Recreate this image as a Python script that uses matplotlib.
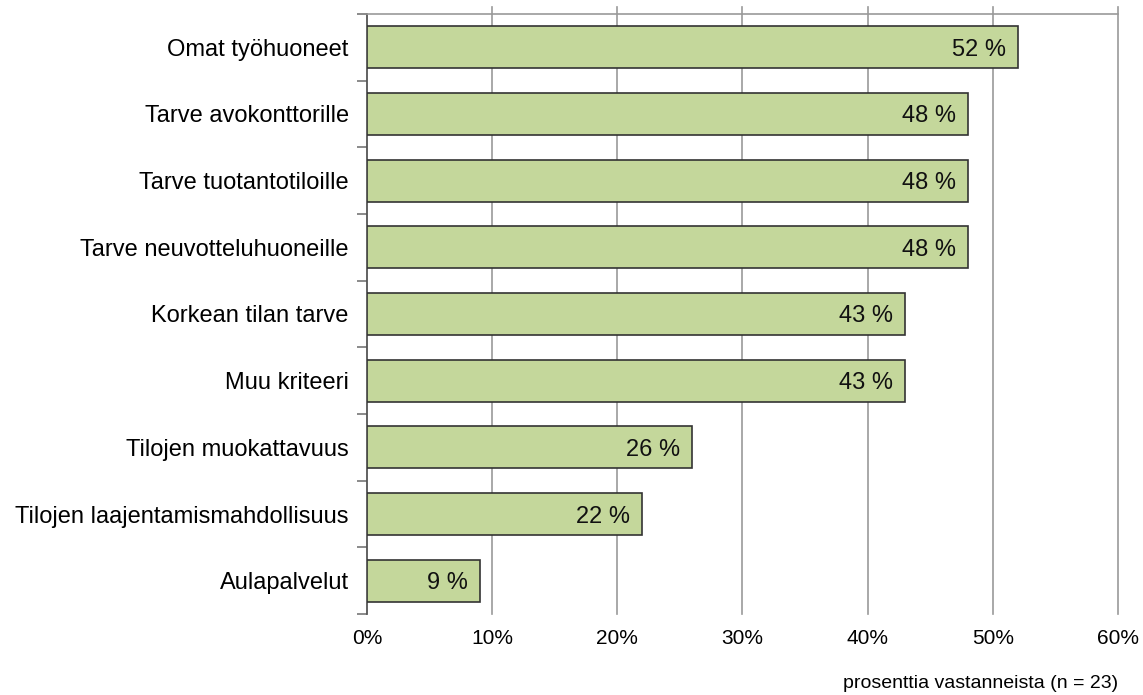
import matplotlib.pyplot as plt
from matplotlib.ticker import FuncFormatter

plt.rcParams['font.family'] = ['Liberation Sans', 'DejaVu Sans']

categories = [
    "Omat työhuoneet",
    "Tarve avokonttorille",
    "Tarve tuotantotiloille",
    "Tarve neuvotteluhuoneille",
    "Korkean tilan tarve",
    "Muu kriteeri",
    "Tilojen muokattavuus",
    "Tilojen laajentamismahdollisuus",
    "Aulapalvelut",
]
values = [52, 48, 48, 48, 43, 43, 26, 22, 9]
x_ticks = [0, 10, 20, 30, 40, 50, 60]
x_title = "prosenttia vastanneista (n = 23)"

fig = plt.figure(figsize=(11.43, 6.95), dpi=100)
ax = fig.add_axes([0.321, 0.1165, 0.657, 0.8635])

ypos = list(range(len(categories)))
ax.barh(ypos, values, height=0.63, color="#c4d79b", edgecolor="#333333",
        linewidth=1.2, zorder=3)

for y, v in zip(ypos, values):
    ax.text(v - 0.95, y, f"{v} %", ha="right", va="center_baseline",
            fontsize=17, color="#111111", zorder=4)

ax.set_xlim(0, 60)
ax.set_ylim(len(categories) - 0.5, -0.5)

# vertical gridlines poke a little above the top line
for xt in x_ticks[1:]:
    ax.plot([xt, xt], [len(categories) - 0.5, -0.6], color="#999999",
            linewidth=1.2, clip_on=False, zorder=1)

ax.set_xticks(x_ticks)
ax.xaxis.set_major_formatter(FuncFormatter(lambda v, p: f"{int(v)}%"))
ax.tick_params(axis="x", length=0, pad=11, labelsize=15)

ax.set_yticks(ypos)
ax.set_yticklabels(categories, fontsize=17)
ax.set_yticks([i - 0.5 for i in range(len(categories) + 1)], minor=True)
ax.tick_params(axis="y", which="major", length=0, pad=13)
ax.tick_params(axis="y", which="minor", length=7, width=1.2, color="#777777")

for side in ["right", "bottom"]:
    ax.spines[side].set_visible(False)
ax.spines["left"].set_color("#555555")
ax.spines["left"].set_linewidth(1.3)
ax.spines["top"].set_color("#999999")
ax.spines["top"].set_linewidth(1.2)

fig.text(0.978, 0.004, x_title, ha="right", va="bottom", fontsize=14)

fig.savefig("out.png", dpi=100)
